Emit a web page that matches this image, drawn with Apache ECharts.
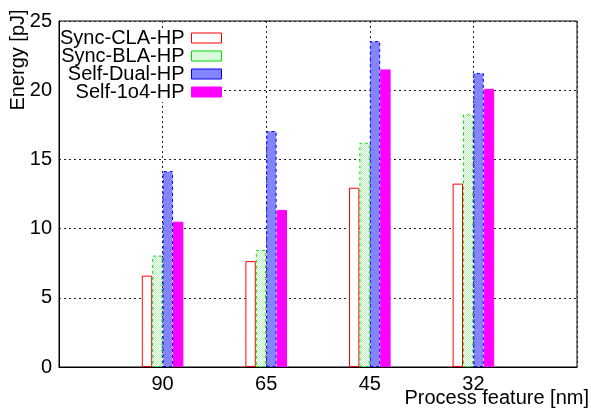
<!DOCTYPE html>
<html>
<head>
<meta charset="utf-8">
<script src="https://cdn.jsdelivr.net/npm/echarts@6/dist/echarts.min.js"></script>
<style>
  html, body { margin: 0; padding: 0; background: #fff; }
  #chart { width: 591px; height: 408px; }
</style>
</head>
<body>
<div id="chart"></div>
<script>
// process nodes, padded with an empty slot on each side like the gnuplot xrange
const categories = ['', '90', '65', '45', '32', ''];
const syncCla = ['-', 6.6, 7.65, 12.95, 13.25, '-'];
const syncBla = ['-', 8.05, 8.45, 16.2, 18.25, '-'];
const selfDual = ['-', 14.15, 17.05, 23.55, 21.25, '-'];
const self1o4 = ['-', 10.5, 11.35, 21.5, 20.1, '-'];
const yTicks = [0, 5, 10, 15, 20, 25];

const FONT = 'Liberation Sans, Arial, sans-serif';
const FS = 20;

// small checker tiles used as fill patterns
function checker(a, b) {
    const c = document.createElement('canvas');
    c.width = 2; c.height = 2;
    const ctx = c.getContext('2d');
    ctx.fillStyle = a; ctx.fillRect(0, 0, 2, 2);
    ctx.fillStyle = b; ctx.fillRect(0, 0, 1, 1); ctx.fillRect(1, 1, 1, 1);
    return { image: c, repeat: 'repeat' };
}

const greenFill = checker('#ffffff', '#b8f5b8');
const blueFill = checker('#7878ff', '#9090ff');

const barW = 10.4;

function barSeries(name, data, itemStyle) {
    return {
        name: name,
        type: 'bar',
        data: data,
        barWidth: barW,
        barGap: '0%',
        itemStyle: itemStyle,
        animation: false,
        emphasis: { disabled: true }
    };
}

const chart = echarts.init(document.getElementById('chart'));
chart.setOption({
    animation: false,
    grid: {
        left: 59, right: 14, top: 21, bottom: 41,
        show: true, borderColor: '#000', borderWidth: 1
    },
    legend: {
        orient: 'vertical',
        align: 'right',
        right: 369,
        top: 28,
        padding: 0,
        itemGap: -2,
        itemWidth: 30,
        itemHeight: 10,
        icon: 'rect',
        backgroundColor: '#fff',
        itemStyle: { borderWidth: 1 },
        textStyle: { fontFamily: FONT, fontSize: FS, color: '#000', lineHeight: 18, padding: [0, 2, 0, 0] },
        data: ['Sync-CLA-HP', 'Sync-BLA-HP', 'Self-Dual-HP', 'Self-1o4-HP']
    },
    xAxis: {
        type: 'category',
        data: categories,
        boundaryGap: false,
        axisLine: { lineStyle: { color: '#000', width: 1 } },
        axisTick: { show: false },
        axisLabel: { fontFamily: FONT, fontSize: FS, color: '#000', margin: 7 },
        splitLine: { show: true, lineStyle: { color: '#222', type: [2, 3], width: 1 } }
    },
    yAxis: {
        type: 'value',
        min: yTicks[0],
        max: yTicks[yTicks.length - 1],
        interval: 5,
        axisLine: { show: true, lineStyle: { color: '#000', width: 1 } },
        axisTick: { show: false },
        axisLabel: { fontFamily: FONT, fontSize: FS, color: '#000', margin: 7 },
        splitLine: { show: true, lineStyle: { color: '#222', type: [2, 3], width: 1 } }
    },
    graphic: [
        {
            type: 'text', x: 8, y: 60, rotation: Math.PI / 2,
            style: { text: 'Energy [pJ]', font: FS + 'px ' + FONT, fill: '#000', align: 'center', verticalAlign: 'top' }
        },
        {
            type: 'text', x: 589, y: 398,
            style: { text: 'Process feature [nm]', font: FS + 'px ' + FONT, fill: '#000', align: 'right', verticalAlign: 'middle' }
        }
    ],
    series: [
        barSeries('Sync-CLA-HP', syncCla, { color: '#fff', borderColor: '#ff0000', borderWidth: 1 }),
        barSeries('Sync-BLA-HP', syncBla, { color: greenFill, borderColor: '#00e000', borderWidth: 1, borderType: [3, 3] }),
        barSeries('Self-Dual-HP', selfDual, { color: blueFill, borderColor: '#0000ff', borderWidth: 1, borderType: [3, 3] }),
        barSeries('Self-1o4-HP', self1o4, { color: '#ff00ff', borderColor: '#ff00ff', borderWidth: 1 })
    ]
});
</script>
</body>
</html>
